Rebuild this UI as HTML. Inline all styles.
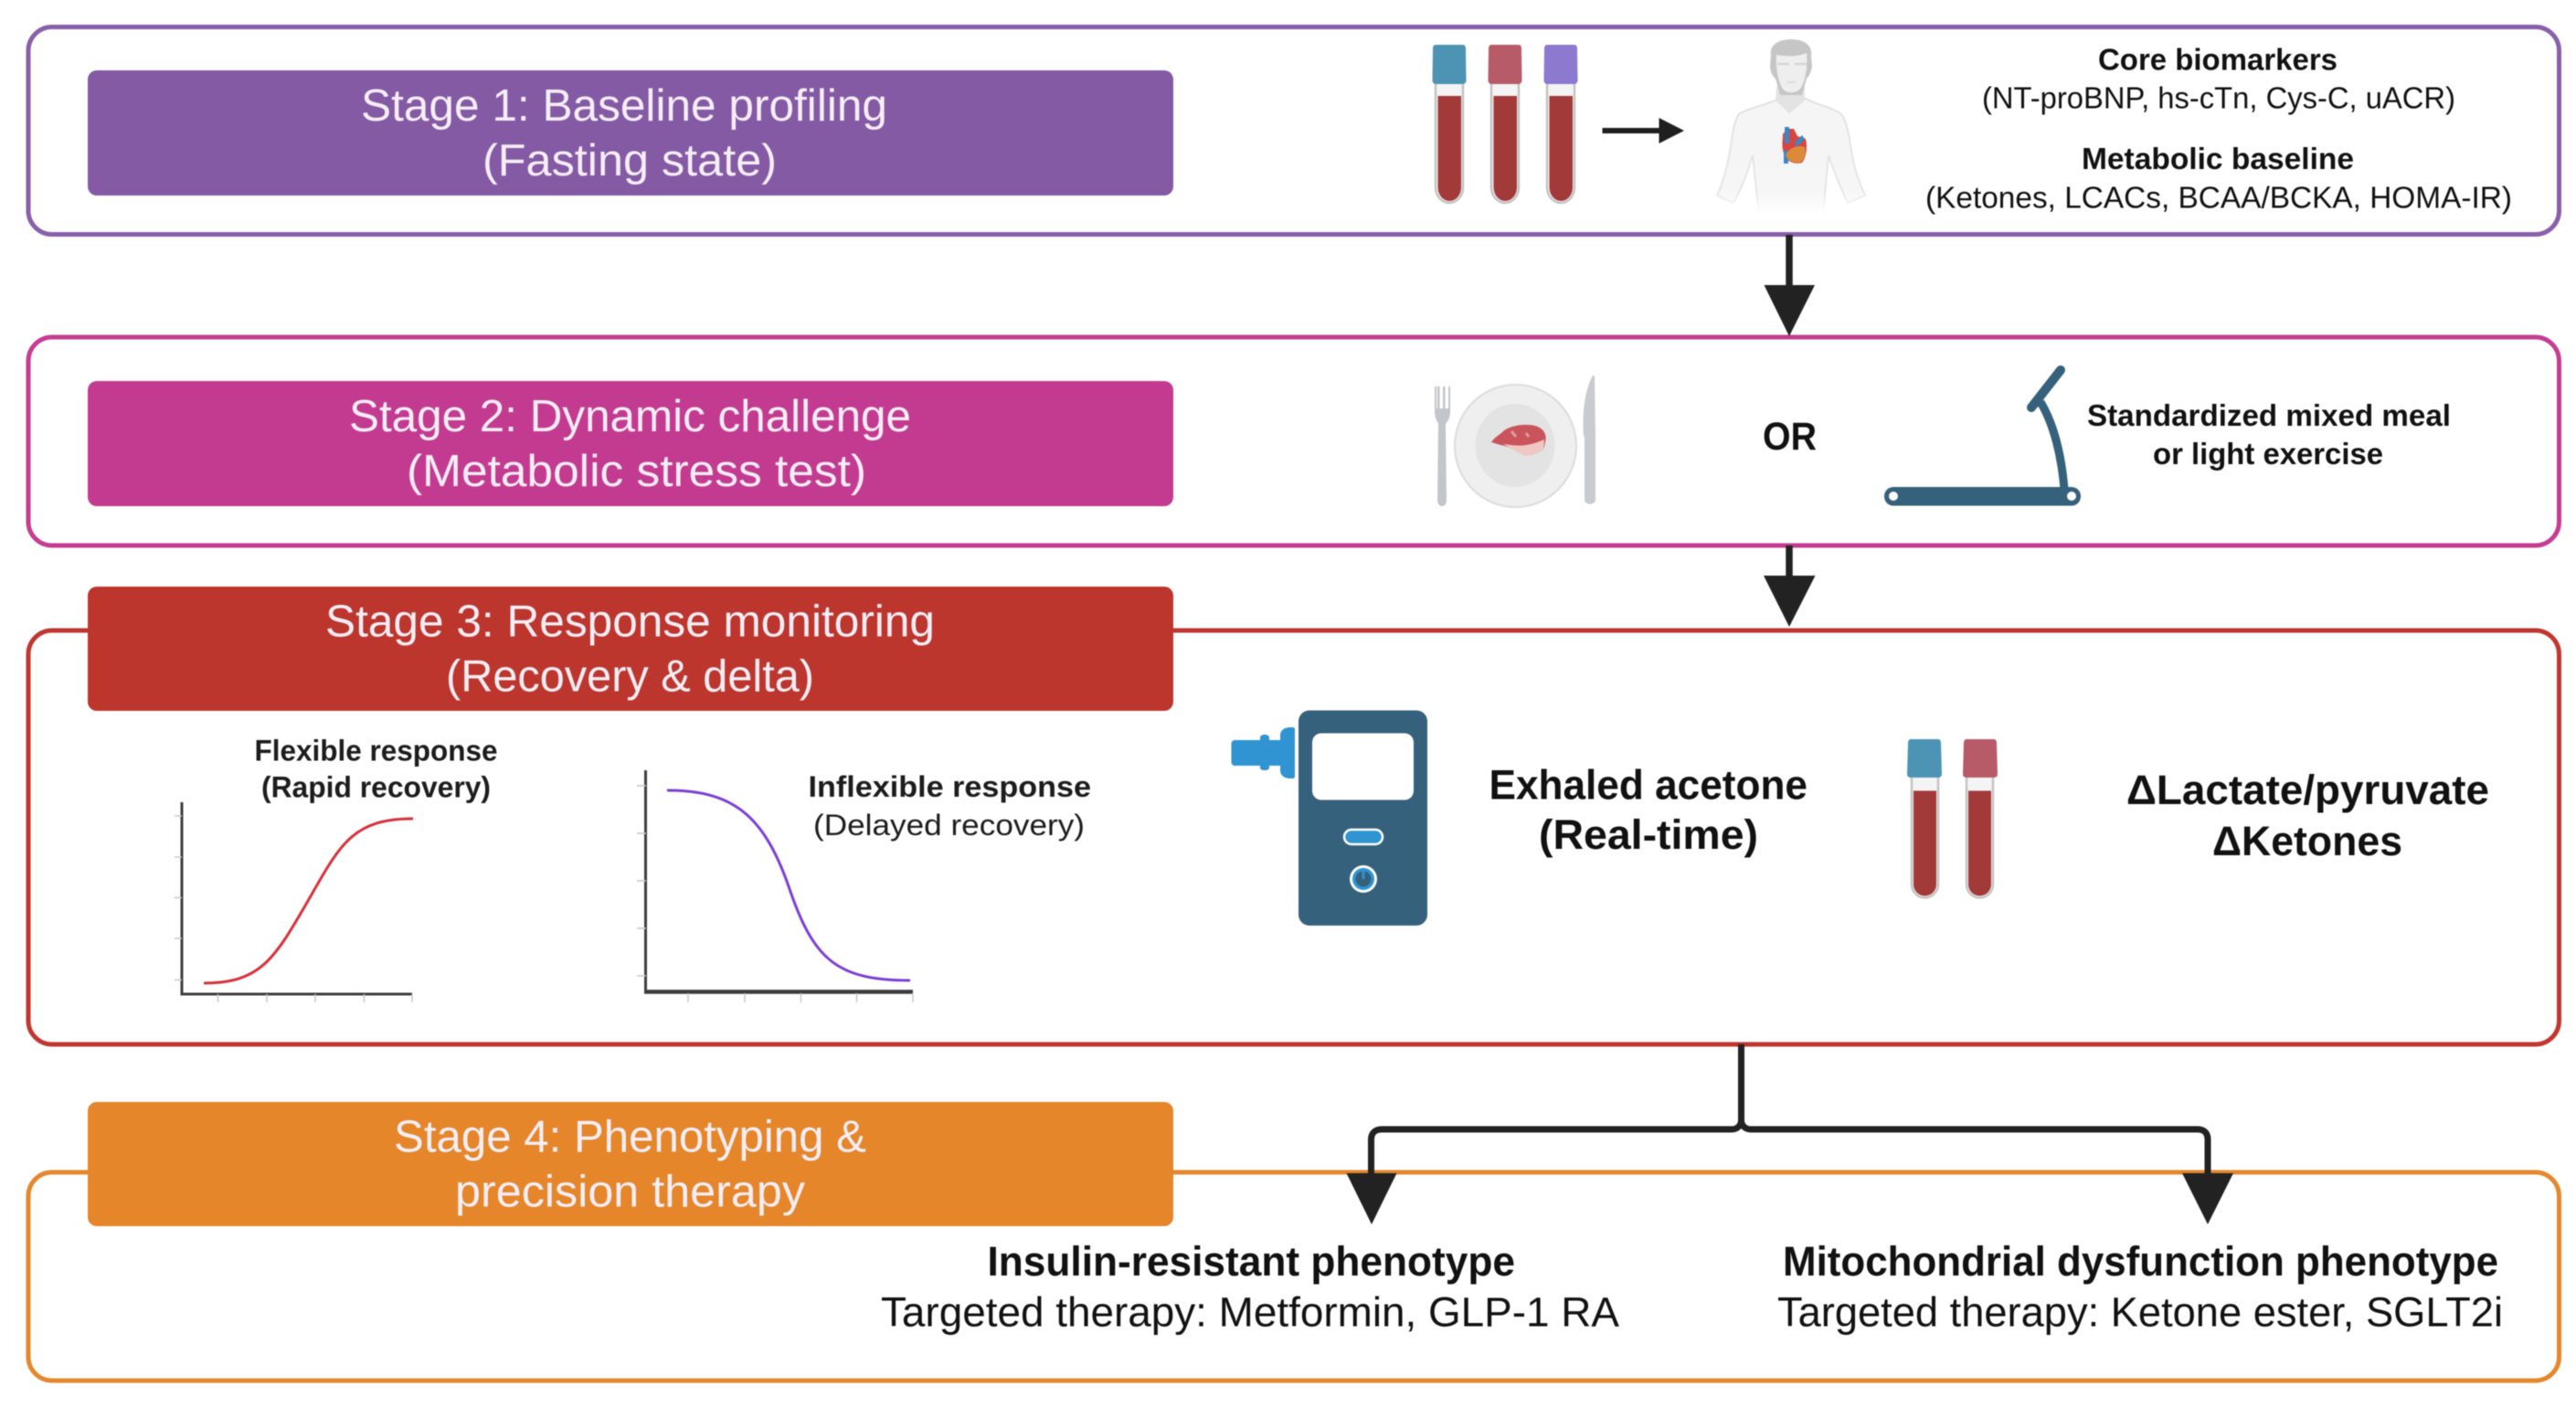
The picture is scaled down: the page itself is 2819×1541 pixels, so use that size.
<!DOCTYPE html>
<html>
<head>
<meta charset="utf-8">
<style>
html,body{margin:0;padding:0;background:#fff;width:2819px;height:1541px;overflow:hidden}
svg{display:block;filter:blur(.6px)}
text{font-family:"Liberation Sans",Arial,sans-serif;text-anchor:start}
.t{font-size:49px;fill:#f6eef6}
.b{font-size:33.5px;font-weight:700;fill:#111}
.n{font-size:33.5px;fill:#111}
.bl{font-size:45px;font-weight:700;fill:#111}
.nl{font-size:45px;fill:#111}
</style>
</head>
<body>
<svg width="2819" height="1541" viewBox="0 0 2819 1541" xmlns="http://www.w3.org/2000/svg">
<defs>
<linearGradient id="fade" x1="0" y1="0" x2="0" y2="1">
<stop offset="0" stop-color="#f5f5f5"/><stop offset=".78" stop-color="#f6f6f6"/><stop offset="1" stop-color="#fff"/>
</linearGradient>
<linearGradient id="fadeS" x1="0" y1="0" x2="0" y2="1">
<stop offset="0" stop-color="#e2e2e2"/><stop offset=".8" stop-color="#e6e6e6"/><stop offset="1" stop-color="#fff"/>
</linearGradient>
</defs>

<!-- outer boxes -->
<rect x="31" y="29.5" width="2769.5" height="227" rx="26" fill="#fff" stroke="#8a5fa9" stroke-width="5"/>
<rect x="31" y="369" width="2769.5" height="228" rx="26" fill="#fff" stroke="#c53d92" stroke-width="5"/>
<rect x="31" y="690" width="2769.5" height="453" rx="26" fill="#fff" stroke="#c1362f" stroke-width="5"/>
<rect x="31" y="1283" width="2769.5" height="228" rx="26" fill="#fff" stroke="#e5872c" stroke-width="5"/>

<!-- stage labels -->
<rect x="96" y="77" width="1188" height="137" rx="10" fill="#845aa5"/>
<rect x="96" y="417" width="1188" height="137" rx="10" fill="#c33b90"/>
<rect x="96" y="642" width="1188" height="136" rx="10" fill="#bc362e"/>
<rect x="96" y="1206" width="1188" height="136" rx="10" fill="#e5862b"/>

<text class="t" x="395" y="132" textLength="576" lengthAdjust="spacingAndGlyphs">Stage 1: Baseline profiling</text>
<text class="t" x="528" y="192" textLength="322" lengthAdjust="spacingAndGlyphs">(Fasting state)</text>
<text class="t" x="382" y="472" textLength="615" lengthAdjust="spacingAndGlyphs">Stage 2: Dynamic challenge</text>
<text class="t" x="445" y="532" textLength="503" lengthAdjust="spacingAndGlyphs">(Metabolic stress test)</text>
<text class="t" x="356" y="696.5" textLength="667" lengthAdjust="spacingAndGlyphs">Stage 3: Response monitoring</text>
<text class="t" x="488" y="756.5" textLength="403" lengthAdjust="spacingAndGlyphs">(Recovery &amp; delta)</text>
<text class="t" x="431" y="1260.5" textLength="517" lengthAdjust="spacingAndGlyphs">Stage 4: Phenotyping &amp;</text>
<text class="t" x="498" y="1320.5" textLength="383" lengthAdjust="spacingAndGlyphs">precision therapy</text>

<!-- Stage 1 tubes -->
<g>
  <g>
    <path d="M1571 90V205a15 17 0 0 0 30 0V90z" fill="#f4f4f4" stroke="#c4c4c4" stroke-width="2.5"/>
    <path d="M1573.5 105H1599V205a12.7 15 0 0 1-25.5 0z" fill="#a33a3a"/>
    <path d="M1571 49H1601C1603 49 1604 51 1604 53L1604.5 88C1604.5 90 1603 92 1601 92H1571C1569 92 1567.5 90 1567.5 88L1568 53C1568 51 1569 49 1571 49z" fill="#4d93b3"/>
  </g>
  <g>
    <path d="M1632 90V205a15 17 0 0 0 30 0V90z" fill="#f4f4f4" stroke="#c4c4c4" stroke-width="2.5"/>
    <path d="M1634.5 105H1660V205a12.7 15 0 0 1-25.5 0z" fill="#a33a3a"/>
    <path d="M1632 49H1662C1664 49 1665 51 1665 53L1665.5 88C1665.5 90 1664 92 1662 92H1632C1630 92 1628.5 90 1628.5 88L1629 53C1629 51 1630 49 1632 49z" fill="#b85b68"/>
  </g>
  <g>
    <path d="M1693 90V205a15 17 0 0 0 30 0V90z" fill="#f4f4f4" stroke="#c4c4c4" stroke-width="2.5"/>
    <path d="M1695.5 105H1721V205a12.7 15 0 0 1-25.5 0z" fill="#a33a3a"/>
    <path d="M1693 49H1723C1725 49 1726 51 1726 53L1726.5 88C1726.5 90 1725 92 1723 92H1693C1691 92 1689.5 90 1689.5 88L1690 53C1690 51 1691 49 1693 49z" fill="#8d79d0"/>
  </g>
</g>

<!-- small arrow -->
<path d="M1753.5 143H1818" stroke="#1f1f1f" stroke-width="6" fill="none"/>
<path d="M1815.5 129L1843 143L1815.5 157z" fill="#1f1f1f"/>

<!-- person -->
<g>
  <path d="M1903 125C1915 117 1935 115 1946 108L1976 108C1988 115 2005 117 2015 125C2021 132 2024 150 2026 165C2029 185 2035 200 2041 214L2022 222C2014 205 2006 185 2001 170L1995 235H1925L1918 170C1912 190 1905 208 1897 222L1879 214C1886 198 1891 180 1894 160C1896 145 1898 132 1903 125z" fill="url(#fade)" stroke="url(#fadeS)" stroke-width="2"/>
  <path d="M1944 95L1943 110L1958 124L1975 110L1975 95z" fill="#e3e3e3"/>
  <path d="M1938 60C1936 50 1946 43 1960 43C1975 43 1984 50 1982 62L1983 72C1982 80 1979 84 1977 86L1972 104H1948L1943 86C1940 84 1937 78 1937 72z" fill="#c6c6c6"/>
  <path d="M1944 60C1955 62 1968 62 1977 58C1978 70 1977 85 1971 96C1966 103 1954 103 1950 96C1945 86 1943 72 1944 60z" fill="#eeeeee"/>
  <path d="M1945 70h13M1964 70h13" stroke="#d6d6d6" stroke-width="2.5"/>
  <path d="M1956 90h9" stroke="#dcdcdc" stroke-width="2"/>
  <path d="M1951 150C1950 146 1953 144 1956 143L1958 141L1963 141L1967 149L1976 152C1978 160 1977 172 1972 178C1966 180 1956 178 1953 170C1950 164 1950 156 1951 150z" fill="#d6453f"/>
  <path d="M1953 139h5v18h-5zM1952 165h5v14h-5zM1964 156L1972 148L1975 152L1966 161z" fill="#3a87c8"/>
  <path d="M1954 170C1957 162 1968 158 1975 161C1977 170 1973 178 1968 178C1961 178 1956 175 1954 170z" fill="#dd8a38"/>
</g>

<!-- Stage 1 right text -->
<text class="b" x="2296" y="76.5" textLength="262" lengthAdjust="spacingAndGlyphs">Core biomarkers</text>
<text class="n" x="2169" y="118.5" textLength="518" lengthAdjust="spacingAndGlyphs">(NT-proBNP, hs-cTn, Cys-C, uACR)</text>
<text class="b" x="2278" y="185" textLength="298" lengthAdjust="spacingAndGlyphs">Metabolic baseline</text>
<text class="n" x="2107" y="227.5" textLength="642" lengthAdjust="spacingAndGlyphs">(Ketones, LCACs, BCAA/BCKA, HOMA-IR)</text>

<!-- arrow 1 -->
<path d="M1958 257V315" stroke="#222" stroke-width="7.5" fill="none"/>
<path d="M1930.5 312H1986L1958 368z" fill="#222"/>

<!-- Stage 2 icons -->
<g>
  <ellipse cx="1658.5" cy="488" rx="66.5" ry="67" fill="#efefef" stroke="#dcdcdc" stroke-width="2"/>
  <ellipse cx="1658" cy="487.5" rx="43.5" ry="45.5" fill="#e3e3e3"/>
  <path d="M1632 484C1636 478 1640 477 1645 472C1652 466 1668 463 1680 466C1690 469 1693 476 1691 484L1689 492C1682 496 1676 499 1668 498C1660 495 1654 489 1642 487z" fill="#c9545c"/>
  <path d="M1645 486C1655 487 1668 491 1690 481L1689 492C1682 496 1676 499 1668 498C1660 495 1654 491 1645 486z" fill="#efc8c4"/>
  <path d="M1654 472l5 6M1670 474l3 4" stroke="#e39aa0" stroke-width="3"/>
  <path d="M1570 423V450C1570 458 1573 461 1574 464L1573 548a5 6 0 0 0 10 0L1582 464C1584 461 1587 458 1587 450V423H1585V447H1581.5V423H1579V447H1575.5V423H1573V447H1572V423z" fill="#c2c6ca"/>
  <path d="M1743 411C1735 425 1731 450 1733 478L1734 478L1734 548a6.5 6 0 0 0 12 0V478L1745 411z" fill="#c8ccd0"/>
</g>
<text class="bl" style="font-size:43px" x="1929" y="492" textLength="59" lengthAdjust="spacingAndGlyphs">OR</text>

<!-- treadmill -->
<g>
  <rect x="2062" y="533" width="215" height="20.5" rx="10" fill="#35617c"/>
  <circle cx="2072" cy="543" r="5" fill="#fff"/>
  <circle cx="2267" cy="543" r="5" fill="#fff"/>
  <path d="M2259 535C2256 500 2248 465 2233 440" stroke="#35617c" stroke-width="9" fill="none"/>
  <path d="M2223 446L2255 405" stroke="#35617c" stroke-width="10" stroke-linecap="round" fill="none"/>
</g>
<text class="b" x="2284" y="466" textLength="398" lengthAdjust="spacingAndGlyphs">Standardized mixed meal</text>
<text class="b" x="2356" y="508" textLength="252" lengthAdjust="spacingAndGlyphs">or light exercise</text>

<!-- arrow 2 -->
<path d="M1958 597V635" stroke="#222" stroke-width="7.5" fill="none"/>
<path d="M1930 630H1986.5L1958 686z" fill="#222"/>

<!-- chart labels -->
<text class="b" style="font-size:32px;fill:#1c1c1c" x="278.5" y="832.5" textLength="266" lengthAdjust="spacingAndGlyphs">Flexible response</text>
<text class="b" style="font-size:32px;fill:#1c1c1c" x="286" y="872.5" textLength="251" lengthAdjust="spacingAndGlyphs">(Rapid recovery)</text>
<text class="b" style="font-size:32px;fill:#1c1c1c" x="884.5" y="872" textLength="309.5" lengthAdjust="spacingAndGlyphs">Inflexible response</text>
<text class="n" style="font-size:32px;fill:#1c1c1c" x="890" y="914" textLength="297" lengthAdjust="spacingAndGlyphs">(Delayed recovery)</text>

<!-- chart 1 -->
<g fill="none">
  <path d="M199 878V1088H451" stroke="#3c3c3c" stroke-width="3"/>
  <path d="M238.5 1088v9M292 1088v9M345 1088v9M398.5 1088v9M451 1088v9M191 893h8M191 938h8M191 982.5h8M191 1027h8M191 1072.5h8" stroke="#c8c8c8" stroke-width="1.5"/>
  <path d="M223 1076C285 1076 300 1050 337 986C372 925 385 896 452 896" stroke="#d8303a" stroke-width="3"/>
</g>
<!-- chart 2 -->
<g fill="none">
  <path d="M706.5 843V1085" stroke="#3c3c3c" stroke-width="3"/>
  <path d="M705 1085.5H999" stroke="#3c3c3c" stroke-width="4.5"/>
  <path d="M753 1087v10M815 1087v10M876.5 1087v10M937.5 1087v10M999 1087v10M697 860h10M697 912h10M697 964h10M697 1016h10M697 1068h10" stroke="#c8c8c8" stroke-width="1.5"/>
  <path d="M730 865C800 865 835 890 863 970C890 1050 915 1073 996 1073" stroke="#7b3fd6" stroke-width="3"/>
</g>

<!-- device -->
<g>
  <rect x="1421" y="777.5" width="141" height="235.5" rx="12" fill="#35617c"/>
  <rect x="1436" y="802.5" width="111" height="73" rx="10" fill="#fff"/>
  <rect x="1471" y="908" width="42" height="16" rx="8" fill="#3093d2" stroke="#fff" stroke-width="2.5"/>
  <circle cx="1492" cy="962" r="15" fill="#fff"/>
  <circle cx="1492" cy="962" r="12" fill="#3093d2"/>
  <circle cx="1492" cy="962" r="8.5" fill="#35617c"/>
  <path d="M1492 950v12" stroke="#3093d2" stroke-width="3"/>
  <path d="M1351 810H1379V808C1379 805 1381 804 1384 804C1387 804 1389 805 1389 808V810H1401V805C1401 799 1406 796 1412 796H1415C1416 796 1417 797 1417 798V850C1417 851 1416 852 1415 852H1412C1406 852 1401 849 1401 843V838H1389V840C1389 842 1387 843 1384 843C1381 843 1379 842 1379 840V838H1351C1349 838 1347.5 836 1347.5 834V814C1347.5 812 1349 810 1351 810z" fill="#3093d2"/>
</g>
<text class="bl" x="1629.5" y="874.5" textLength="348.5" lengthAdjust="spacingAndGlyphs">Exhaled acetone</text>
<text class="bl" x="1684" y="929" textLength="240" lengthAdjust="spacingAndGlyphs">(Real-time)</text>

<!-- Stage 3 tubes -->
<g>
  <path d="M2092 848V968a14.5 14.5 0 0 0 29 0V848z" fill="#f4f4f4" stroke="#c4c4c4" stroke-width="2.5"/>
  <path d="M2094 865.5H2119V968a12.5 12.5 0 0 1-25 0z" fill="#a33a3a"/>
  <path d="M2091 809H2121C2123 809 2124 811 2124 813L2125 847C2125 850 2123 851 2121 851H2091C2089 851 2087 850 2087 847L2088 813C2088 811 2089 809 2091 809z" fill="#4d93b3"/>
  <path d="M2152 848V968a14.5 14.5 0 0 0 29 0V848z" fill="#f4f4f4" stroke="#c4c4c4" stroke-width="2.5"/>
  <path d="M2154 865.5H2179V968a12.5 12.5 0 0 1-25 0z" fill="#a33a3a"/>
  <path d="M2152 809H2182C2184 809 2185 811 2185 813L2186 847C2186 850 2184 851 2182 851H2152C2150 851 2148 850 2148 847L2149 813C2149 811 2150 809 2152 809z" fill="#b85b68"/>
</g>
<text class="bl" x="2327" y="880" textLength="397" lengthAdjust="spacingAndGlyphs">ΔLactate/pyruvate</text>
<text class="bl" x="2421" y="936" textLength="208" lengthAdjust="spacingAndGlyphs">ΔKetones</text>

<!-- split arrow -->
<path d="M1905.5 1143V1226M1905.5 1226C1905.5 1232 1901 1236 1895 1236H1512C1505 1236 1500.5 1240 1500.5 1247V1288M1905.5 1226C1905.5 1232 1910 1236 1916 1236H2405C2412 1236 2416 1240 2416 1247V1288" stroke="#222" stroke-width="7" fill="none"/>
<path d="M1473.5 1284H1528.5L1501 1340z" fill="#222"/>
<path d="M2388 1284H2444L2416 1340z" fill="#222"/>

<!-- Stage 4 text -->
<text class="bl" x="1080.5" y="1396" textLength="577.5" lengthAdjust="spacingAndGlyphs">Insulin-resistant phenotype</text>
<text class="nl" x="964" y="1451.5" textLength="808" lengthAdjust="spacingAndGlyphs">Targeted therapy: Metformin, GLP-1 RA</text>
<text class="bl" x="1951" y="1396" textLength="783" lengthAdjust="spacingAndGlyphs">Mitochondrial dysfunction phenotype</text>
<text class="nl" x="1945" y="1451.5" textLength="794" lengthAdjust="spacingAndGlyphs">Targeted therapy: Ketone ester, SGLT2i</text>
</svg>
</body>
</html>
